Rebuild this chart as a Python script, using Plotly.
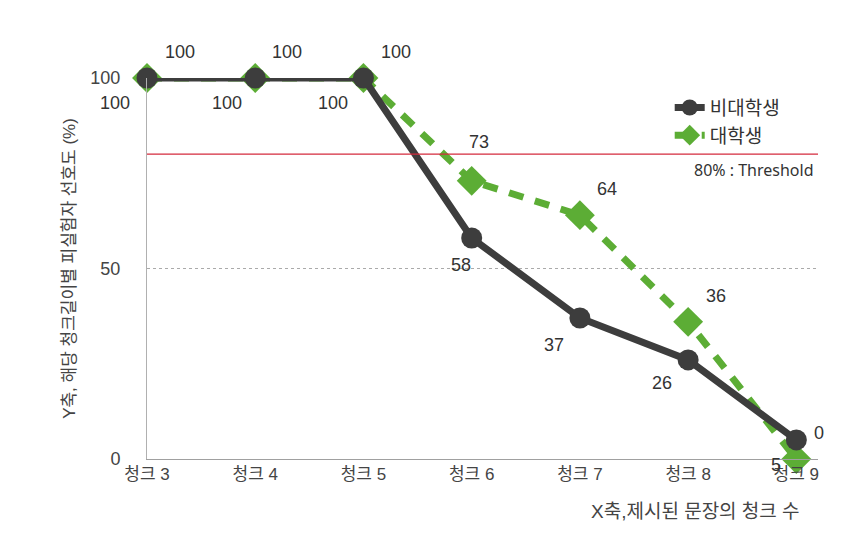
import plotly.graph_objects as go

categories = ["청크 3", "청크 4", "청크 5", "청크 6", "청크 7", "청크 8", "청크 9"]
non_student = [100, 100, 100, 58, 37, 26, 5]
student = [100, 100, 100, 73, 64, 36, 0]
non_student_labels = ["100", "100", "100", "58", "37", "26", "0"]
student_labels = ["100", "100", "100", "73", "64", "36", "5"]
threshold = 80
series_names = ["비대학생", "대학생"]

x_idx = list(range(len(categories)))

FONT = "'Liberation Sans', Arial, 'Noto Sans CJK KR', sans-serif"
DARK = "#3d3d3d"
GREEN = "#5cad35"

fig = go.Figure()
fig.add_trace(go.Scatter(
    x=x_idx, y=student, name=series_names[1], mode="lines+markers",
    line=dict(color=GREEN, width=7, dash="15px,12px"),
    marker=dict(symbol="diamond", size=23, color=GREEN),
    cliponaxis=False,
))
fig.add_trace(go.Scatter(
    x=x_idx, y=non_student, name=series_names[0], mode="lines+markers",
    line=dict(color=DARK, width=7),
    marker=dict(symbol="circle", size=21, color=DARK),
    cliponaxis=False,
))

dark_off = [(-32, -25), (-28, -25), (-30, -25), (-11, -27), (-26, -27), (-26, -23), (23, 7)]
green_off = [(33, 26), (32, 26), (33, 26), (7, 39), (27, 26), (28, 26), (-20, -6)]
for i in x_idx:
    fig.add_annotation(x=i, y=non_student[i], text=non_student_labels[i], showarrow=False,
                       xshift=dark_off[i][0], yshift=dark_off[i][1],
                       font=dict(family=FONT, size=18, color="#333333"))
    fig.add_annotation(x=i, y=student[i], text=student_labels[i], showarrow=False,
                       xshift=green_off[i][0], yshift=green_off[i][1],
                       font=dict(family=FONT, size=18, color="#333333"))

fig.add_shape(type="line", xref="x domain", x0=0, x1=1, yref="y", y0=threshold, y1=threshold,
              line=dict(color="#d42a3c", width=1.3))
fig.add_annotation(xref="paper", x=0.997, xanchor="right", yref="y", y=threshold, yshift=-16,
                   text=f"{threshold}% : Threshold", showarrow=False,
                   font=dict(family="'Noto Sans', 'Noto Sans CJK KR', sans-serif", size=16, color="#333333"))

fig.add_annotation(xref="paper", x=0.976, xanchor="right", yref="paper", y=-0.139, yanchor="middle",
                   text="X축,제시된 문장의 청크 수", showarrow=False,
                   font=dict(family=FONT, size=19, color="#444444"))

fig.update_layout(
    width=841, height=541,
    margin=dict(l=139, r=31, t=70, b=90, autoexpand=False),
    paper_bgcolor="white", plot_bgcolor="white",
    font=dict(family=FONT, color="#444444"),
    legend=dict(x=0.779, y=0.972, xanchor="left", yanchor="top",
                font=dict(family="'Noto Sans CJK KR', sans-serif", size=19, color="#333333"),
                traceorder="reversed", tracegroupgap=0, bgcolor="rgba(0,0,0,0)",
                itemwidth=30),
    showlegend=True,
)
fig.update_xaxes(
    range=[0, 6.2], tickvals=x_idx, ticktext=categories, showgrid=False, zeroline=False,
    showline=True, linecolor="#a0a0a0", linewidth=1, ticks="", automargin=False,
    tickfont=dict(family=FONT, size=17, color="#444444"),
)
fig.update_yaxes(
    range=[0, 100], tickvals=[0, 50, 100], showgrid=True, gridcolor="#aaaaaa", griddash="dot",
    gridwidth=1, zeroline=False, showline=True, linecolor="#b0b0b0", linewidth=1, ticks="",
    ticklabelstandoff=22, automargin=False,
    tickfont=dict(family=FONT, size=18, color="#444444"),
    title=dict(text="Y축, 해당 청크길이별 피실험자 선호도 (%)", standoff=10,
               font=dict(family=FONT, size=17, color="#444444")),
)

fig.write_html("out.html")
